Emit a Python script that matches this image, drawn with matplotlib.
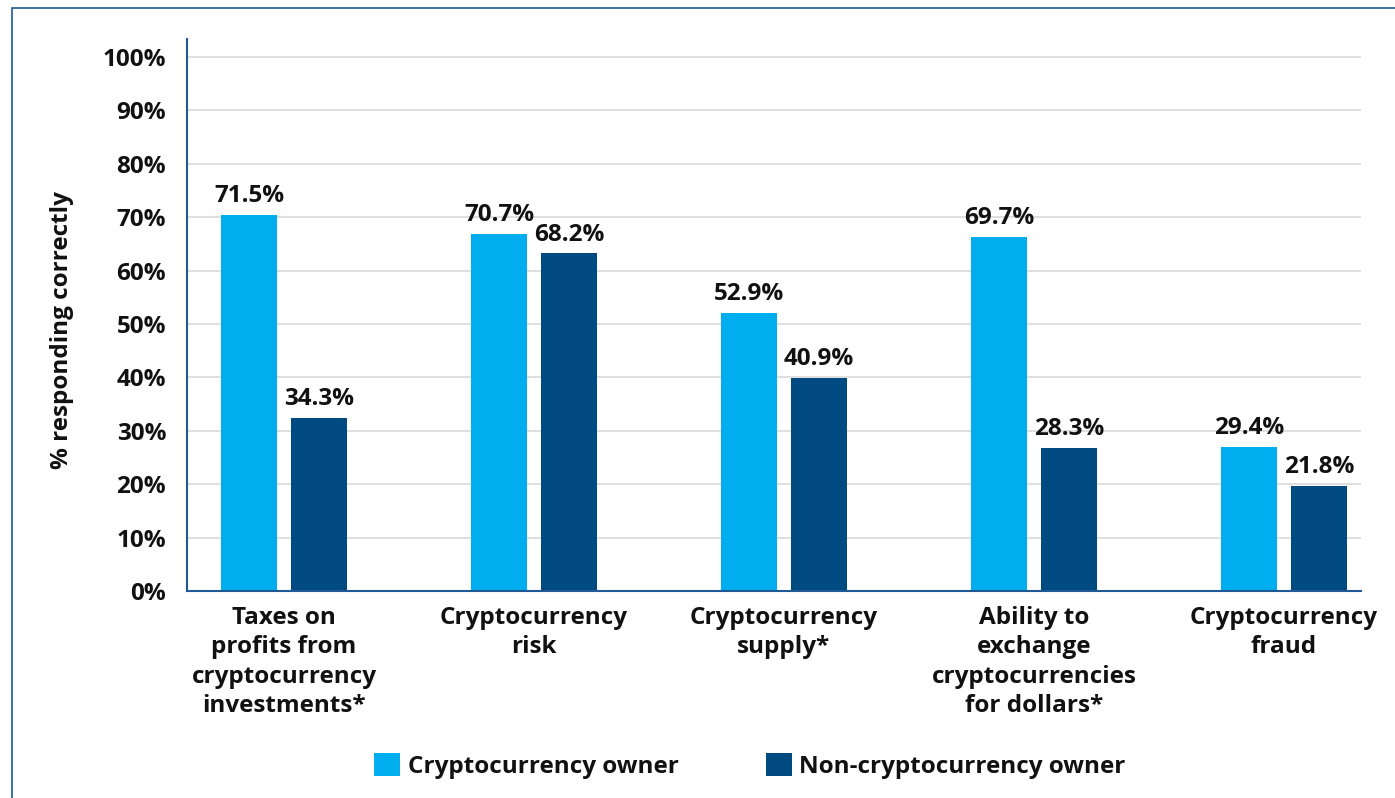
import matplotlib
matplotlib.use("Agg")
import matplotlib.pyplot as plt
from matplotlib.patches import Rectangle
import numpy as np

categories = [
    "Taxes on\nprofits from\ncryptocurrency\ninvestments*",
    "Cryptocurrency\nrisk",
    "Cryptocurrency\nsupply*",
    "Ability to\nexchange\ncryptocurrencies\nfor dollars*",
    "Cryptocurrency\nfraud",
]
series_names = ["Cryptocurrency owner", "Non-cryptocurrency owner"]
# bar heights as drawn in the picture
owner_values = [70.4, 66.9, 52.0, 66.3, 27.0]
non_owner_values = [32.4, 63.2, 39.8, 26.8, 19.7]
# value labels as printed in the picture
owner_labels = ["71.5%", "70.7%", "52.9%", "69.7%", "29.4%"]
non_owner_labels = ["34.3%", "68.2%", "40.9%", "28.3%", "21.8%"]
y_ticks = [0, 10, 20, 30, 40, 50, 60, 70, 80, 90, 100]
y_tick_labels = [f"{t}%" for t in y_ticks]

OWNER_C = "#00AEEF"
NON_C = "#004A82"
AXIS_C = "#1F5A96"
TXT_C = "#111111"
FONT = ["Open Sans", "DejaVu Sans"]
FS = 17.5
WT = "bold"

plt.rcParams["font.family"] = FONT

fig = plt.figure(figsize=(13.95, 7.98), dpi=100)
W, H = 1395, 798
ax_h = 591 - 39.3
ax = fig.add_axes([187 / W, 1 - 591 / H, (1361 - 187) / W, ax_h / H])

x = np.arange(len(categories))
bw = 0.224
off = 0.14
b1 = ax.bar(x - off, owner_values, bw, color=OWNER_C, label=series_names[0], zorder=3)
b2 = ax.bar(x + off, non_owner_values, bw, color=NON_C, label=series_names[1], zorder=3)

for bars, labs in ((b1, owner_labels), (b2, non_owner_labels)):
    for rect, lab in zip(bars, labs):
        ax.annotate(lab, (rect.get_x() + rect.get_width() / 2, rect.get_height()),
                    xytext=(0, 5), textcoords="offset points", ha="center", va="bottom",
                    fontsize=FS, fontweight=WT, color=TXT_C)

ax.set_xlim(-0.388, 4.308)
ax.set_ylim(0, 103.3)
ax.set_yticks(y_ticks)
ax.set_yticklabels(y_tick_labels, fontsize=FS, fontweight=WT, color=TXT_C)
ax.set_xticks(x)
ax.set_xticklabels(categories, fontsize=FS, fontweight=WT, color=TXT_C,
                   linespacing=1.31, va="top")
ax.tick_params(axis="both", length=0)
ax.tick_params(axis="y", pad=15)
ax.tick_params(axis="x", pad=10.5)

ax.yaxis.grid(True, color="#D9D9D9", linewidth=1.2, zorder=0)
ax.set_axisbelow(True)
for s in ["top", "right"]:
    ax.spines[s].set_visible(False)
for s in ["left", "bottom"]:
    ax.spines[s].set_color(AXIS_C)
    ax.spines[s].set_linewidth(1.5)
    ax.spines[s].set_zorder(4)

ax.set_ylabel("% responding correctly", fontsize=FS, fontweight=WT, color=TXT_C)
ax.yaxis.set_label_coords((74 - 187) / (1361 - 187), (591 - 330) / ax_h)

leg = fig.legend(handles=[b1, b2], labels=series_names, loc="center",
                 bbox_to_anchor=(750 / W, 1 - 766 / H), ncol=2, frameon=False,
                 prop={"weight": WT, "size": FS, "family": FONT},
                 handlelength=1.05, handleheight=1.05, handletextpad=0.32,
                 columnspacing=3.6)
for t in leg.get_texts():
    t.set_color(TXT_C)

# outer frame
fig.add_artist(Rectangle((11.5 / W, -0.05), 1.2, 1 - 8.3 / H + 0.05,
                         transform=fig.transFigure, fill=False,
                         edgecolor=AXIS_C, linewidth=1.2))

fig.savefig("out.png", dpi=100)
